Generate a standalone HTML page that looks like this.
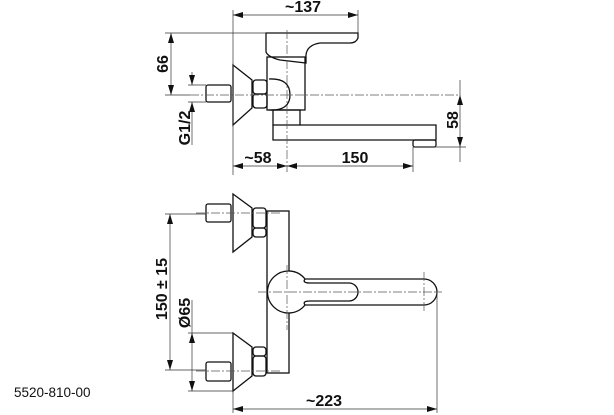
<!DOCTYPE html>
<html><head><meta charset="utf-8"><style>
html,body{margin:0;padding:0;background:#fff;}
svg{display:block;}
text{font-family:"Liberation Sans",Arial,sans-serif;font-size:16px;font-weight:bold;fill:#111;}
</style></head><body>
<svg width="614" height="415" viewBox="0 0 614 415" xmlns="http://www.w3.org/2000/svg">
<defs>
<marker id="a" viewBox="0 0 10 6" refX="10" refY="3" markerWidth="10" markerHeight="6" orient="auto-start-reverse" markerUnits="userSpaceOnUse"><path d="M0,0 L10,3 L0,6 z" fill="#111"/></marker>
</defs>
<g fill="none" stroke="#111" stroke-width="1.3">
<!-- TOP VIEW -->
<path d="M266,33 H358 V38 Q356,43 350,43 H320 Q307,45 306,55 V63 L280,60 Q268,57 266,52 Z"/>
<rect x="267" y="57" width="38" height="53"/>
<path d="M269,79 Q290,78 290,95 Q290,111 269,110"/>
<path d="M233,65 L252,80 V108 L233,125 Z"/>
<rect x="253" y="80" width="14" height="14" rx="3"/>
<rect x="253" y="94" width="14" height="14" rx="3"/>
<rect x="206" y="85" width="25" height="17" rx="2"/>
<rect x="273" y="110" width="27" height="15"/>
<path d="M300,125 H436 V140 H273 V125"/>
<rect x="413" y="140" width="23" height="7" rx="2"/>
<!-- BOTTOM VIEW -->
<rect x="267" y="211" width="22" height="162"/>
<path d="M233,194 L252,208 V237 L233,252 Z"/>
<rect x="253" y="208" width="13" height="20" rx="3"/>
<rect x="253" y="228" width="13" height="9" rx="3"/>
<rect x="206" y="204" width="25" height="18" rx="2"/>
<path d="M233,333 L252,347 V376 L233,391 Z"/>
<rect x="253" y="347" width="13" height="9" rx="3"/>
<rect x="253" y="356" width="13" height="20" rx="3"/>
<rect x="206" y="362" width="25" height="19" rx="2"/>
<path d="M305,279 H424 A13,13 0 0 1 424,305 H305 A21,21 0 1 1 305,279 Z" fill="#fff"/>
<path d="M305,279 Q302,283 310,283 H349 A9,9 0 0 1 349,301 H310 Q302,301 305,305"/>
</g>
<!-- center lines -->
<g stroke="#555" stroke-width="0.7" stroke-dasharray="9,2,2,2" fill="none">
<line x1="190" y1="95" x2="458" y2="95"/>
<line x1="287" y1="30" x2="287" y2="170"/>
<line x1="196" y1="213" x2="280" y2="213"/>
<line x1="196" y1="371" x2="280" y2="371"/>
<line x1="258" y1="292" x2="442" y2="292"/>
<line x1="287" y1="265" x2="287" y2="330"/>
<line x1="424" y1="272" x2="424" y2="312"/>
</g>
<!-- dimension lines -->
<g stroke="#333" stroke-width="0.7" fill="none">
<line x1="233" y1="10" x2="233" y2="175"/>
<line x1="358" y1="10" x2="358" y2="33"/>
<line x1="233" y1="15" x2="358" y2="15" marker-start="url(#a)" marker-end="url(#a)"/>
<line x1="165" y1="33" x2="266" y2="33"/>
<line x1="165" y1="95" x2="190" y2="95"/>
<line x1="171" y1="33" x2="171" y2="95" marker-start="url(#a)" marker-end="url(#a)"/>
<line x1="188" y1="85" x2="206" y2="85"/>
<line x1="188" y1="102" x2="206" y2="102"/>
<line x1="192" y1="72" x2="192" y2="85" marker-end="url(#a)"/>
<line x1="192" y1="115" x2="192" y2="102" marker-end="url(#a)"/>
<line x1="192" y1="115" x2="192" y2="145"/>
<line x1="413" y1="147" x2="466" y2="147"/>
<line x1="460" y1="80" x2="460" y2="95"/>
<line x1="460" y1="95" x2="460" y2="147" marker-start="url(#a)" marker-end="url(#a)"/>
<line x1="460" y1="147" x2="460" y2="162"/>
<line x1="287" y1="170" x2="287" y2="172"/>
<line x1="413" y1="147" x2="413" y2="172"/>
<line x1="233" y1="166" x2="287" y2="166" marker-start="url(#a)" marker-end="url(#a)"/>
<line x1="287" y1="166" x2="413" y2="166" marker-start="url(#a)" marker-end="url(#a)"/>
<line x1="165" y1="214" x2="206" y2="214"/>
<line x1="165" y1="370" x2="206" y2="370"/>
<line x1="170" y1="214" x2="170" y2="370" marker-start="url(#a)" marker-end="url(#a)"/>
<line x1="188" y1="333" x2="233" y2="333"/>
<line x1="188" y1="391" x2="233" y2="391"/>
<line x1="192" y1="300" x2="192" y2="333"/>
<line x1="192" y1="333" x2="192" y2="391" marker-start="url(#a)" marker-end="url(#a)"/>
<line x1="233" y1="391" x2="233" y2="413"/>
<line x1="437" y1="292" x2="437" y2="413"/>
<line x1="233" y1="409" x2="437" y2="409" marker-start="url(#a)" marker-end="url(#a)"/>
</g>
<!-- labels -->
<text x="303" y="12" text-anchor="middle">~137</text>
<text x="258" y="163" text-anchor="middle">~58</text>
<text x="355" y="163" text-anchor="middle">150</text>
<text x="324" y="406" text-anchor="middle">~223</text>
<text transform="translate(168,64) rotate(-90)" text-anchor="middle">66</text>
<text transform="translate(190,128) rotate(-90)" text-anchor="middle">G1/2</text>
<text transform="translate(458,120) rotate(-90)" text-anchor="middle">58</text>
<text transform="translate(167,289) rotate(-90)" text-anchor="middle">150 ± 15</text>
<text transform="translate(190,313) rotate(-90)" text-anchor="middle">Ø65</text>
<text x="14" y="397" style="font-size:13.5px;font-weight:normal">5520-810-00</text>
</svg>
</body></html>
